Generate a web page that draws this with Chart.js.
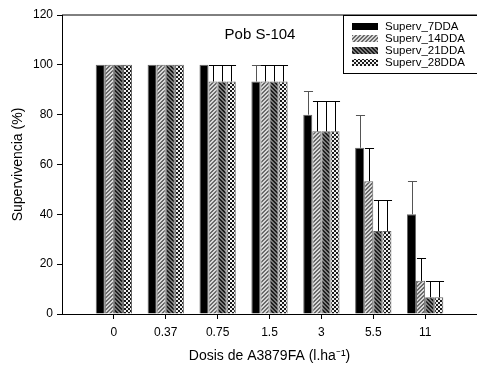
<!DOCTYPE html>
<html>
<head>
<meta charset="utf-8">
<script src="https://cdn.jsdelivr.net/npm/chart.js@4.4.1/dist/chart.umd.min.js"></script>
<style>
  html, body { margin: 0; padding: 0; background: #fff; }
</style>
</head>
<body>
<canvas id="chart" width="477" height="367"></canvas>
<script>
const doses = ['0', '0.37', '0.75', '1.5', '3', '5.5', '11'];
const seriesNames = ['Superv_7DDA', 'Superv_14DDA', 'Superv_21DDA', 'Superv_28DDA'];

const superv7 = [100, 100, 100, 93.3, 80, 66.7, 40];
const superv14 = [100, 100, 93.3, 93.3, 73.3, 53.3, 13.3];
const superv21 = [100, 100, 93.3, 93.3, 73.3, 33.3, 6.7];
const superv28 = [100, 100, 93.3, 93.3, 73.3, 33.3, 6.7];

const err7 = [0, 0, 0, 6.7, 9.5, 13.3, 13.3];
const err14 = [0, 0, 6.7, 6.7, 12, 13.3, 9.2];
const err21 = [0, 0, 6.7, 6.7, 12, 12.5, 6.7];
const err28 = [0, 0, 6.7, 6.7, 12, 12.5, 6.7];

const yTicks = [0, 20, 40, 60, 80, 100, 120];

Chart.defaults.font.family = '"Liberation Sans", Arial, sans-serif';
Chart.defaults.color = '#000';

// small pixel tiles for the hatch fills
function makePattern(size, paint) {
    let c = document.createElement('canvas');
    c.width = size;
    c.height = size;
    let g = c.getContext('2d');
    for (let y = 0; y < size; y++) {
        for (let x = 0; x < size; x++) {
            g.fillStyle = paint(x, y);
            g.fillRect(x, y, 1, 1);
        }
    }
    return g.createPattern(c, 'repeat');
}

let fills = [
    '#000',
    makePattern(4, (x, y) => ((x + y) % 4 >= 2 ? '#6a6a6a' : '#d8d8d8')),
    makePattern(4, (x, y) => (((x - y + 8) % 4) < 2 ? '#1e1e1e' : '#7c7c7c')),
    makePattern(4, (x, y) => ((Math.floor(x / 2) + Math.floor(y / 2)) % 2 ? '#f0f0f0' : '#1a1a1a'))
];

let values = [superv7, superv14, superv21, superv28];
let errors = [err7, err14, err21, err28];

let datasets = values.map((vals, d) => ({
    label: seriesNames[d],
    data: vals.map((v, i) => ({x: i, y: v})),
    errors: errors[d],
    backgroundColor: fills[d],
    borderColor: '#666',
    borderWidth: 1,
    categoryPercentage: 0.7,
    barPercentage: 1
}));

let errorBars = {
    id: 'errorBars',
    afterDatasetsDraw: (chart) => {
        let ctx = chart.ctx;
        let yScale = chart.scales.y;
        ctx.save();
        ctx.lineWidth = 1;
        chart.data.datasets.forEach((ds, d) => {
            chart.getDatasetMeta(d).data.forEach((bar, i) => {
                let e = ds.errors[i];
                if (!e) {
                    return;
                }
                let top = Math.round(yScale.getPixelForValue(ds.data[i].y + e)) + 0.5;
                let x = Math.round(bar.x) + 0.5;
                let half = bar.width / 2;
                ctx.strokeStyle = d === 0 ? '#555' : '#000';
                ctx.beginPath();
                ctx.moveTo(x, bar.y);
                ctx.lineTo(x, top);
                ctx.moveTo(x - half, top);
                ctx.lineTo(x + half, top);
                ctx.stroke();
            });
        });
        ctx.restore();
    }
};

let frameAndLegend = {
    id: 'frameAndLegend',
    afterDraw: (chart) => {
        let ctx = chart.ctx;
        let area = chart.chartArea;
        ctx.save();

        // top frame line
        ctx.strokeStyle = '#000';
        ctx.lineWidth = 1;
        ctx.beginPath();
        ctx.moveTo(area.left, area.top);
        ctx.lineTo(area.right, area.top);
        ctx.stroke();

        // panel title
        ctx.fillStyle = '#000';
        ctx.font = '15px "Liberation Sans", Arial, sans-serif';
        ctx.textAlign = 'center';
        ctx.textBaseline = 'middle';
        ctx.fillText('Pob S-104', 260, 35);

        // legend box, right side runs off the canvas
        let bx = 343.5, by = 15.5, bw = 140, bh = 58;
        ctx.fillStyle = '#fff';
        ctx.fillRect(bx, by, bw, bh);
        ctx.strokeStyle = '#000';
        ctx.strokeRect(bx, by, bw, bh);

        ctx.font = '11.5px "Liberation Sans", Arial, sans-serif';
        ctx.textAlign = 'left';
        chart.data.datasets.forEach((ds, d) => {
            let cy = 26 + d * 12;
            ctx.fillStyle = ds.backgroundColor;
            ctx.fillRect(352, cy - 3, 26, 7);
            ctx.fillStyle = '#000';
            ctx.fillText(ds.label, 385, cy + 0.5);
        });
        ctx.restore();
    }
};

new Chart(document.getElementById('chart').getContext('2d'), {
    type: 'bar',
    data: {datasets: datasets},
    options: {
        responsive: false,
        animation: false,
        layout: {padding: {top: 15, right: 0, bottom: 0, left: 0}},
        plugins: {
            legend: {display: false},
            tooltip: {enabled: false}
        },
        scales: {
            x: {
                type: 'linear',
                min: -1,
                max: 7,
                offset: false,
                afterBuildTicks: (s) => {
                    s.ticks = doses.map((lab, i) => ({value: i}));
                },
                afterFit: (s) => { s.height = 53; },
                grid: {
                    offset: false,
                    drawOnChartArea: false,
                    drawTicks: true,
                    tickLength: 5,
                    color: '#000'
                },
                border: {display: true, color: '#000'},
                ticks: {
                    autoSkip: false,
                    maxRotation: 0,
                    padding: 6,
                    font: {size: 12},
                    callback: (v) => doses[v]
                },
                title: {
                    display: true,
                    text: 'Dosis de A3879FA (l.ha⁻¹)',
                    font: {size: 14},
                    padding: {top: 0, bottom: 2}
                }
            },
            y: {
                min: 0,
                max: 120,
                afterBuildTicks: (s) => {
                    s.ticks = yTicks.map((v) => ({value: v}));
                },
                afterFit: (s) => { s.width = 62; },
                grid: {
                    drawOnChartArea: false,
                    drawTicks: true,
                    tickLength: 5,
                    color: '#000'
                },
                border: {display: true, color: '#000'},
                ticks: {
                    padding: 4,
                    font: {size: 12}
                },
                title: {
                    display: true,
                    text: 'Supervivencia (%)',
                    font: {size: 14},
                    padding: {top: 10, bottom: 0}
                }
            }
        }
    },
    plugins: [errorBars, frameAndLegend]
});
</script>
</body>
</html>
